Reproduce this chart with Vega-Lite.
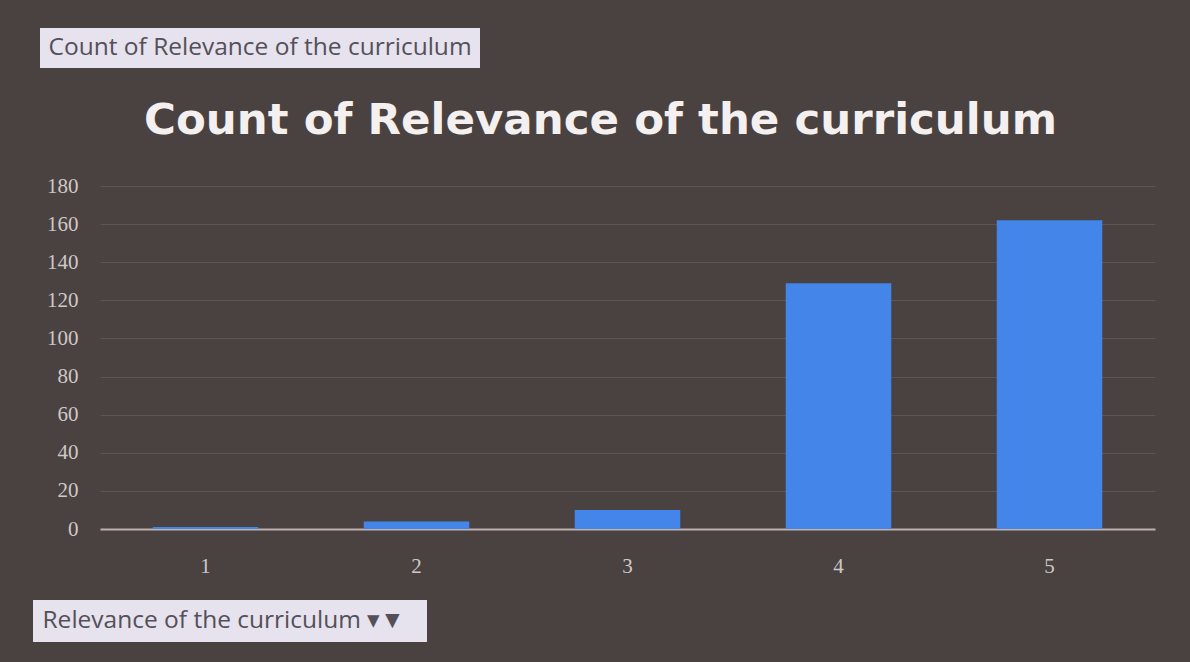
{
  "$schema": "https://vega.github.io/schema/vega-lite/v6.json",
  "width": 1055,
  "height": 343,
  "autosize": {"type": "none"},
  "padding": {"left": 100, "top": 186, "right": 35, "bottom": 133},
  "background": "#4a4240",
  "title": {
    "text": "Count of Relevance of the curriculum",
    "font": "DejaVu Sans",
    "fontWeight": "bold",
    "fontSize": 43.5,
    "color": "#f4f0f0",
    "anchor": "middle",
    "frame": "group",
    "offset": 0,
    "dx": -27,
    "dy": 115
  },
  "data": {
    "values": [
      {"rating": "1", "count": 1},
      {"rating": "2", "count": 4},
      {"rating": "3", "count": 10},
      {"rating": "4", "count": 129},
      {"rating": "5", "count": 162}
    ]
  },
  "mark": {"type": "bar"},
  "encoding": {
    "x": {
      "field": "rating",
      "type": "ordinal",
      "scale": {"paddingInner": 0.5, "paddingOuter": 0.25},
      "axis": {
        "title": null,
        "labelAngle": 0,
        "labelFont": "Liberation Serif",
        "labelFontSize": 21,
        "labelColor": "#cfc8c8",
        "labelPadding": 26,
        "ticks": false,
        "domainColor": "#bdb0ae",
        "domainWidth": 2
      }
    },
    "y": {
      "field": "count",
      "type": "quantitative",
      "scale": {"domain": [0, 180], "nice": false},
      "axis": {
        "title": null,
        "values": [0, 20, 40, 60, 80, 100, 120, 140, 160, 180],
        "labelFont": "Liberation Serif",
        "labelFontSize": 21,
        "labelColor": "#cfc8c8",
        "labelPadding": 22,
        "ticks": false,
        "domain": false,
        "gridColor": "#5e5553",
        "gridWidth": 1
      }
    },
    "color": {
      "datum": "Count of Relevance of the curriculum",
      "scale": {"range": ["#4385e8"]},
      "legend": {
        "orient": "none",
        "legendX": -60,
        "legendY": -158,
        "title": null,
        "fillColor": "#e6e2ee",
        "padding": 8,
        "symbolSize": 0,
        "symbolOpacity": 0,
        "symbolStrokeWidth": 0,
        "labelOffset": -24,
        "labelFont": "Open Sans",
        "labelFontSize": 24.5,
        "labelColor": "#555058",
        "labelLimit": 600
      }
    },
    "opacity": {
      "datum": "Relevance of the curriculum   ▾▼",
      "type": "nominal",
      "scale": {"range": [1]},
      "legend": {
        "orient": "none",
        "legendX": -67,
        "legendY": 414,
        "title": null,
        "fillColor": "#e6e2ee",
        "padding": 9,
        "symbolSize": 0,
        "symbolOpacity": 0,
        "symbolStrokeWidth": 0,
        "labelOffset": -24,
        "labelFont": "Open Sans",
        "labelFontSize": 24.5,
        "labelColor": "#555058",
        "labelLimit": 600
      }
    }
  },
  "config": {"view": {"stroke": null}}
}
